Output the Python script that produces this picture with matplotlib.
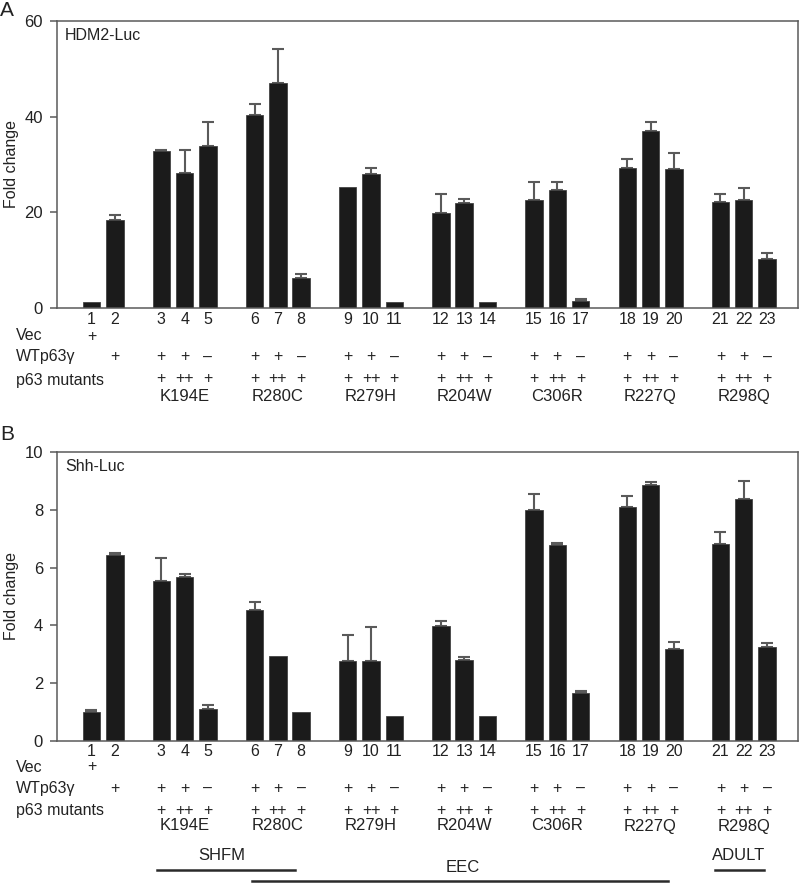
import numpy as np
import matplotlib.pyplot as plt
from matplotlib.transforms import blended_transform_factory
from matplotlib.lines import Line2D

plt.rcParams['font.family'] = ['Liberation Sans', 'DejaVu Sans']

# lane numbers 1..23
lanes = [str(i) for i in range(1, 24)]
mutants = ["K194E", "R280C", "R279H", "R204W", "C306R", "R227Q", "R298Q"]

# panel A: HDM2-Luc fold change and upper error
hdm2_mean = [1.3, 18.5, 32.8, 28.3, 33.9, 40.4, 47.1, 6.2, 25.4, 28.1, 1.3, 19.9,
             22.0, 1.3, 22.5, 24.6, 1.4, 29.2, 37.0, 29.0, 22.1, 22.5, 10.3]
hdm2_err = [0, 1.0, 0.2, 4.8, 5.0, 2.2, 7.1, 1.0, 0, 1.1, 0, 4.0,
            0.7, 0, 3.9, 1.8, 0.4, 1.9, 1.8, 3.3, 1.8, 2.6, 1.3]

# panel B: Shh-Luc fold change and upper error
shh_mean = [1.01, 6.44, 5.55, 5.66, 1.12, 4.54, 2.93, 1.0, 2.78, 2.76, 0.85, 3.99,
            2.82, 0.86, 8.01, 6.77, 1.66, 8.09, 8.86, 3.19, 6.81, 8.36, 3.26]
shh_err = [0.06, 0.06, 0.77, 0.13, 0.12, 0.27, 0, 0, 0.90, 1.17, 0, 0.17,
           0.08, 0, 0.54, 0.08, 0.06, 0.39, 0.10, 0.25, 0.42, 0.63, 0.14]

vec_row = ["+", ""] + [""] * 21
wt_row = ["", "+"] + ["+", "+", "\u2013"] * 7
mut_row = ["", ""] + ["+", "++", "+"] * 7

# bar slots: 1, 2, gap, then groups of three with a gap between
pos = [0, 1] + [3 + (i // 3) * 4 + i % 3 for i in range(21)]
pos = np.array(pos, dtype=float)

W, H = 800, 884
fig = plt.figure(figsize=(W / 100, H / 100), dpi=100)

GRAY = "#5a5a5a"
BAR = "#1b1b1b"
TXT = "#222222"


def fy(py):
    return 1 - py / H


def panel(rect, mean, err, ymax, step, title, rows_py):
    ax = fig.add_axes(rect)
    mean = np.array(mean)
    err = np.array(err)
    ax.bar(pos, mean, width=0.75, color=BAR, edgecolor="#444444", linewidth=0.6, zorder=2)
    m = err > 0
    ax.errorbar(pos[m], mean[m], yerr=[np.zeros(m.sum()), err[m]], fmt="none",
                ecolor=GRAY, elinewidth=1.5, capsize=4.5, capthick=1.5, zorder=1)
    ax.set_xlim(-1.48, 30.33)
    ax.set_ylim(0, ymax)
    ax.set_yticks(np.arange(0, ymax + 0.1, step))
    ax.set_xticks([])
    for s in ax.spines.values():
        s.set_color(GRAY)
        s.set_linewidth(1.1)
    ax.tick_params(axis="y", direction="out", length=5, width=1.1, color=GRAY,
                   labelsize=12, pad=5, labelcolor=TXT)
    ax.set_ylabel("Fold change", fontsize=11.5, color=TXT)
    ax.yaxis.set_label_coords(-0.051, 0.5)
    ax.text(0.011, 0.975, title, transform=ax.transAxes, fontsize=11.5,
            va="top", ha="left", color=TXT)

    tr = blended_transform_factory(ax.transData, fig.transFigure)
    num_y, vec_y, wt_y, mut_y, name_y = rows_py
    for i in range(23):
        ax.text(pos[i], fy(num_y), lanes[i], transform=tr, ha="center", va="center",
                fontsize=11.5, color=TXT)
        if vec_row[i]:
            ax.text(pos[i], fy(vec_y), vec_row[i], transform=tr, ha="center",
                    va="center", fontsize=11.5, color=TXT)
        if wt_row[i]:
            ax.text(pos[i], fy(wt_y), wt_row[i], transform=tr, ha="center",
                    va="center", fontsize=11.5, color=TXT)
        if mut_row[i]:
            ax.text(pos[i], fy(mut_y - 1), mut_row[i], transform=tr, ha="center",
                    va="center", fontsize=11.5, color=TXT)
    for g, name in enumerate(mutants):
        ax.text(pos[3 + g * 3], fy(name_y), name, transform=tr, ha="center",
                va="center", fontsize=12, color=TXT)
    for label, py in [("Vec", vec_y), ("WTp63\u03b3", wt_y), ("p63 mutants", mut_y)]:
        fig.text(16 / W, fy(py), label, ha="left", va="center", fontsize=11.5,
                 color=TXT)
    return ax, tr


axA, trA = panel([57 / W, fy(308), 741 / W, (308 - 21) / H], hdm2_mean, hdm2_err,
                 60, 20, "HDM2-Luc", (319, 336, 357, 380, 397))
axB, trB = panel([57 / W, fy(741), 741 / W, (741 - 452) / H], shh_mean, shh_err,
                 10, 2, "Shh-Luc", (752, 767, 788, 811, 826))

fig.text(0 / W, fy(11), "A", fontsize=15, ha="left", va="center", color=TXT)
fig.text(0 / W, fy(435), "B", fontsize=15, ha="left", va="center", color=TXT)

# disease group bars under panel B
for text, x0, x1, ly, tx, ty in [("SHFM", 2.81, 8.73, 870, 5.6, 856),
                                 ("EEC", 6.89, 24.74, 881, 15.93, 868),
                                 ("ADULT", 26.76, 28.86, 870, 27.79, 855)]:
    fig.add_artist(Line2D([x0, x1], [fy(ly), fy(ly)], transform=trB,
                          color="#2a2a2a", linewidth=1.8))
    fig.text(0, 0, text, transform=trB, fontsize=12, color=TXT,
             ha="center", va="center").set_position((tx, fy(ty)))

fig.savefig("out.png", dpi=100)
